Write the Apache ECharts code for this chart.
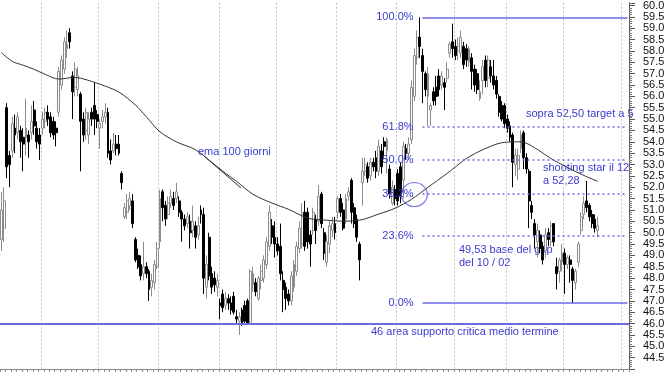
<!DOCTYPE html>
<html><head><meta charset="utf-8">
<script src="https://cdn.jsdelivr.net/npm/echarts@6/dist/echarts.min.js"></script>
<style>html,body{margin:0;padding:0;background:#fff}#c{width:672px;height:378px}</style>
</head><body><div id="c"></div>
<script>
// [open, close, low, high]
const candles = [
[49.7,51.0,49.2,51.8],[50.2,51.4,49.6,52.0],[55.5,52.9,52.4,55.7],[53.4,53.0,52.0,53.6],[53.6,54.8,53.3,55.1],
[54.6,54.3,53.5,55.2],[54.4,55.1,54.1,55.3],[54.5,54.0,53.3,54.7],[54.2,53.9,52.7,54.6],[54.2,54.6,53.4,55.9],
[54.3,54.0,53.3,54.5],[54.4,54.9,54.1,55.6],[55.4,54.7,54.3,55.8],[54.6,54.0,53.7,54.9],[54.3,53.9,53.2,54.6],
[54.6,55.0,54.3,55.3],[54.9,55.3,54.6,55.5],[55.3,55.0,54.7,55.6],[55.1,54.4,54.2,55.3],[54.9,54.3,54.1,55.1],
[54.6,54.4,53.8,54.9],[55.3,57.1,55.1,57.3],[56.5,57.6,56.3,57.8],[57.2,58.4,57.0,58.6],[58.1,58.3,57.7,58.9],
[58.8,58.4,58.1,59.0],[56.9,56.2,55.0,57.1],[56.4,57.2,56.0,57.5],[56.3,56.9,56.0,57.3],[56.1,54.9,52.7,56.2],
[55.0,54.3,54.0,55.3],[54.5,55.3,54.1,55.5],[54.3,55.0,53.9,55.3],[55.3,55.0,54.7,55.5],[55.6,55.0,54.3,56.6],
[55.2,54.9,54.6,55.4],[54.6,54.8,53.7,55.0],[54.9,55.1,54.6,55.4],[55.1,55.3,54.8,55.7],[55.3,53.5,53.3,55.5],
[53.6,53.2,53.0,54.1],[53.6,53.9,53.5,54.4],[53.9,53.7,53.4,54.3],[53.9,53.5,53.4,54.3],[52.6,52.2,51.9,52.7],
[50.7,51.1,50.6,51.3],[50.9,51.4,50.6,51.7],[51.2,51.5,51.0,51.8],[51.4,50.4,50.2,51.7],[49.7,48.8,48.7,49.8],
[49.0,48.5,48.4,49.3],[48.6,48.1,47.9,49.0],[48.2,48.5,47.9,49.6],[48.5,48.2,48.0,48.7],[48.3,47.5,47.0,48.4],
[47.6,47.9,47.2,48.2],[47.8,48.6,47.5,48.8],[48.5,49.3,48.4,49.6],[49.6,51.5,49.3,51.9],[51.8,51.1,50.5,51.9],
[51.2,50.6,50.3,51.4],[50.8,51.3,50.6,51.6],[51.3,51.6,51.1,51.9],[51.5,51.2,51.0,51.8],[51.5,51.8,51.3,52.2],
[51.4,50.9,50.7,51.6],[50.9,50.6,49.6,51.0],[50.6,50.3,50.1,50.8],[50.4,50.7,50.2,50.9],[50.5,50.0,49.3,50.8],
[50.1,50.5,49.8,51.2],[50.3,49.8,49.3,50.5],[49.9,50.3,49.7,50.7],[51.0,50.8,50.4,51.2],[50.8,48.0,47.3,51.1],
[47.6,48.6,47.1,49.0],[49.8,48.1,47.9,50.0],[48.2,47.6,47.3,48.5],[48.0,47.7,47.4,48.3],[47.6,47.9,47.2,48.2],
[46.9,46.8,46.2,47.1],[47.3,46.7,46.5,47.5],[46.8,47.1,46.6,47.4],[47.1,46.9,46.6,47.3],[46.9,46.6,46.4,47.2],
[47.2,46.5,46.4,47.4],[46.3,46.2,46.0,46.6],[46.1,46.3,45.5,46.5],[46.6,46.0,45.9,46.7],[46.8,46.1,46.0,47.0],
[47.0,46.0,45.95,47.1],[46.0,48.3,45.95,48.4],[47.7,48.2,47.4,48.5],[47.8,47.4,47.2,48.0],[47.1,48.0,47.0,48.1],
[47.9,48.3,47.5,48.6],[48.0,48.8,47.8,49.0],[48.6,49.6,48.4,49.8],[49.4,50.9,49.2,51.2],[50.3,49.8,49.5,50.6],
[49.8,49.5,48.9,50.5],[49.5,49.2,49.0,49.8],[49.4,48.2,47.9,50.4],[47.9,47.5,46.5,48.3],[47.6,47.1,46.6,47.8],
[47.3,47.0,46.8,47.5],[47.0,48.1,46.8,48.3],[47.6,48.6,47.4,48.8],[48.3,49.4,48.1,49.6],[49.3,50.2,49.1,50.5],
[49.5,50.8,49.3,51.3],[50.9,49.4,49.2,51.4],[50.9,49.6,49.3,51.1],[49.9,49.5,48.5,50.1],[50.1,50.9,49.9,51.1],
[50.6,50.1,49.5,50.8],[50.5,51.6,50.3,52.1],[51.7,50.4,50.2,51.8],[50.0,49.1,48.8,50.2],[48.7,49.6,48.5,49.9],
[49.5,50.3,49.1,50.5],[50.1,50.4,49.8,50.7],[50.4,50.0,49.7,50.7],[50.9,51.5,50.6,51.6],[51.5,50.9,50.7,51.7],
[51.0,50.2,50.1,51.3],[50.6,51.5,50.4,51.7],[51.6,51.8,51.4,52.0],[52.3,50.9,50.4,52.4],[51.1,50.4,50.2,51.3],
[50.6,49.8,49.6,50.8],[49.5,48.8,47.9,49.6],[52.2,52.7,51.2,53.3],[52.7,53.0,52.5,53.3],[52.9,52.4,52.2,53.1],
[52.5,53.1,52.3,53.3],[53.1,52.9,52.7,53.3],[53.3,52.7,52.4,53.6],[52.7,53.8,52.5,54.1],[53.6,52.9,52.6,53.9],
[54.0,53.8,53.3,54.2],[53.6,54.1,52.6,54.2],[52.8,51.7,51.5,53.0],[51.3,52.0,51.2,52.3],[51.9,51.5,51.2,52.1],
[52.6,51.4,51.2,52.8],[52.9,51.6,51.3,53.1],[52.3,53.8,51.5,54.0],[53.7,53.5,53.2,53.9],[53.5,53.9,53.2,54.2],
[54.1,56.4,53.9,56.7],[56.0,57.8,55.8,58.1],[57.7,58.6,57.4,58.9],[58.6,58.2,57.7,59.48],[57.8,57.1,55.7,58.1],
[57.0,56.3,56.0,57.1],[56.0,57.0,54.7,57.3],[55.4,55.6,54.7,55.7],[56.2,55.8,55.6,56.4],[56.4,56.0,55.6,56.9],
[56.9,56.3,56.0,57.2],[56.5,56.9,56.3,57.1],[56.6,56.4,55.4,56.8],[56.8,57.2,56.6,57.5],[57.9,58.3,57.7,58.4],
[58.4,58.1,57.7,59.2],[58.2,57.8,57.6,58.5],[58.0,58.2,57.6,58.6],[57.9,58.6,57.7,58.9],[58.2,57.4,57.2,58.4],
[58.1,57.6,57.3,58.3],[57.5,58.1,57.3,58.2],[57.7,57.1,56.3,57.9],[57.2,56.5,56.2,57.4],[57.0,56.3,56.1,57.2],
[55.9,56.2,55.8,56.7],[56.7,57.3,56.1,57.6],[57.6,56.7,56.4,57.8],[56.8,57.6,56.4,57.8],[57.3,56.9,56.6,57.6],
[56.9,56.5,56.3,57.6],[56.7,56.1,55.9,56.9],[56.0,55.3,55.1,56.1],[55.6,55.0,54.9,55.8],[55.6,54.8,54.6,55.7],
[55.0,54.6,54.4,55.2],[54.7,54.2,54.0,54.9],[54.3,53.1,52.0,54.4],[53.0,53.4,52.5,53.7],[52.8,53.4,52.3,53.7],
[53.7,54.3,53.5,54.5],[54.4,53.3,52.8,54.5],[53.3,52.8,52.6,53.5],[52.7,51.4,50.2,52.8],[51.2,50.9,50.6,51.4],
[50.4,49.9,49.3,50.6],[49.6,50.1,48.9,50.4],[49.9,49.3,49.1,50.1],[49.4,48.8,48.6,49.6],[49.2,49.9,48.9,50.2],
[50.0,49.7,49.4,50.2],[49.6,50.3,49.4,50.5],[50.4,49.6,49.4,50.4],[48.5,48.2,47.5,48.9],[48.3,48.8,47.8,48.9],
[48.7,49.1,48.3,49.5],[49.1,48.6,47.3,49.3],[48.6,48.9,48.4,49.0],[48.8,48.6,47.8,49.0],[48.4,47.9,46.9,48.5],
[47.8,48.3,47.5,48.4],[48.7,49.5,48.5,49.6],[50.1,50.7,49.9,50.9],[50.8,51.3,50.6,51.6],[51.4,51.1,50.9,52.28],
[51.2,50.7,50.5,51.3],[50.8,50.4,50.2,51.0],[50.6,50.2,50.0,50.8],[50.1,50.3,49.8,50.7]
];
// 100-day EMA: [candle index, value]
const emaPoints = [
[0,57.93],[4,57.54],[8,57.37],[12,57.19],[16,56.97],[21,56.76],[24,56.80],[26,56.84],[29,56.80],[34,56.62],
[38,56.45],[43,56.19],[49,55.62],[53,55.10],[58,54.44],[64,54.00],[71,53.65],[77,53.09],[82,52.61],[86,52.26],
[92,51.69],[99,51.30],[105,51.03],[112,50.64],[119,50.55],[124,50.51],[131,50.55],[138,50.82],[144,51.08],
[150,51.47],[156,52.00],[163,52.61],[170,53.26],[176,53.65],[183,53.96],[190,54.00],[195,53.74],[201,53.26],
[207,52.87],[213,52.52],[218,52.26]
];
const fibLevels = [59.48, 54.67, 53.19, 51.71, 49.87, 46.90];
const fibLabels = ['100.0%', '61.8%', '50.0%', '38.2%', '23.6%', '0.0%'];
const fibStartIndex = 154;
const supportLevel = 46.0;
const circlePoint = [150.5, 51.68];
const monthGridIdx = [15, 36, 58, 80, 101, 123, 145, 166, 185, 206, 227];
const categoryCount = 230;
const categories = Array.from({length: categoryCount}, (_, i) => String(i));

const BLUE_TXT = '#3a3ad2';
const BLUE_LN = '#6b6be6';
const FONT = 'Arial, "Liberation Sans", sans-serif';

const fibLines = fibLevels.map((lv, k) => {
  const solid = (k === 0 || k === fibLevels.length - 1);
  return [
    {coord: [fibStartIndex, lv],
     lineStyle: {color: BLUE_LN, width: 1.5, type: solid ? 'solid' : [2, 3]},
     label: {show: true, position: 'start', distance: 9, formatter: fibLabels[k],
             color: BLUE_TXT, fontSize: 11, fontFamily: FONT}},
    {coord: [categoryCount - 1, lv]}
  ];
});
fibLines.push({yAxis: supportLevel, label: {show: false}, lineStyle: {color: BLUE_LN, width: 2, type: 'solid'}});

const chart = echarts.init(document.getElementById('c'));
chart.setOption({
  animation: false,
  backgroundColor: '#fff',
  grid: {left: 0, right: 43, top: 0, bottom: 9},
  xAxis: {
    type: 'category', data: categories, boundaryGap: true,
    axisLine: {show: true, lineStyle: {color: '#888'}},
    axisTick: {show: true, interval: 1, length: 3, lineStyle: {color: '#8888aa'}},
    axisLabel: {show: false},
    splitLine: {show: true, interval: (idx) => monthGridIdx.includes(idx),
                lineStyle: {color: '#c4c4c4', type: [2, 2], width: 1}}
  },
  yAxis: {
    type: 'value', position: 'right', min: 44, max: 60.12, interval: 0.5,
    axisLine: {show: true, lineStyle: {color: '#555'}},
    axisTick: {show: true, length: 6, lineStyle: {color: '#555'}},
    minorTick: {show: true, splitNumber: 5, length: 3, lineStyle: {color: '#777'}},
    splitLine: {show: false},
    axisLabel: {margin: 14, fontSize: 11, fontFamily: FONT, color: '#111',
                formatter: (v) => (v < 44.25 ? '' : v.toFixed(1))}
  },
  series: [
    {
      type: 'candlestick', data: candles, barWidth: 2.4,
      itemStyle: {color: '#ffffff', color0: '#000000', borderColor: '#8c8c8c', borderColor0: '#000000', borderWidth: 1},
      markLine: {silent: true, symbol: ['none', 'none'], data: fibLines}
    },
    {
      type: 'line', data: emaPoints, showSymbol: false, smooth: 0.3,
      lineStyle: {color: '#333', width: 1}, z: 3
    },
    {
      type: 'scatter', data: [circlePoint], symbol: 'circle', symbolSize: [26, 24],
      itemStyle: {color: 'rgba(0,0,0,0)', borderColor: '#5a5ae0', borderWidth: 1.2}, z: 4
    }
  ],
  graphic: [
    {type: 'line', shape: {x1: 204, y1: 156, x2: 241, y2: 188}, style: {stroke: '#333', lineWidth: 1}},
    {type: 'text', left: 198, top: 146, style: {text: 'ema 100 giorni', fill: BLUE_TXT, font: '11px ' + FONT}},
    {type: 'text', left: 526, top: 108, style: {text: 'sopra 52,50 target a 5', fill: BLUE_TXT, font: '11px ' + FONT}},
    {type: 'text', left: 543, top: 162, style: {text: 'shooting star il 12', fill: BLUE_TXT, font: '11px ' + FONT}},
    {type: 'text', left: 543, top: 175, style: {text: 'a 52,28', fill: BLUE_TXT, font: '11px ' + FONT}},
    {type: 'text', left: 459, top: 244, style: {text: '49,53 base del gap', fill: BLUE_TXT, font: '11px ' + FONT}},
    {type: 'text', left: 459, top: 257, style: {text: 'del 10 / 02', fill: BLUE_TXT, font: '11px ' + FONT}},
    {type: 'text', left: 371, top: 326, style: {text: '46 area supporto critica medio termine', fill: BLUE_TXT, font: '11px ' + FONT}}
  ]
});
</script></body></html>
